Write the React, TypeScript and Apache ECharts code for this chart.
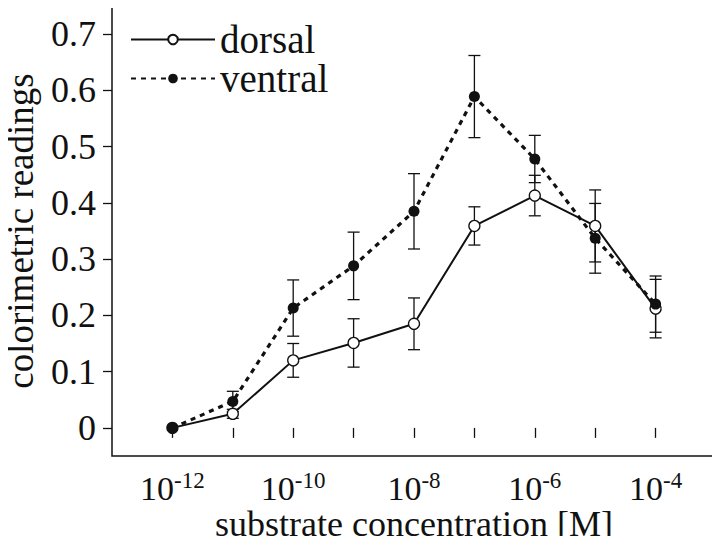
import React, { useEffect, useRef } from "react";
import * as echarts from "echarts";

// log10 of substrate concentration [M]
const logConcentration = [-12, -11, -10, -9, -8, -7, -6, -5, -4];
const dorsalMean = [0.0, 0.025, 0.12, 0.151, 0.185, 0.359, 0.413, 0.359, 0.212];
const dorsalErr = [0.0, 0.008, 0.03, 0.043, 0.046, 0.034, 0.036, 0.064, 0.052];
const ventralMean = [0.0, 0.047, 0.213, 0.288, 0.385, 0.589, 0.478, 0.337, 0.22];
const ventralErr = [0.0, 0.018, 0.05, 0.06, 0.067, 0.073, 0.042, 0.062, 0.05];
const xTickValues = [-12, -11, -10, -9, -8, -7, -6, -5, -4];
const xLabelValues = [-12, -10, -8, -6, -4];
const yTickValues = [0, 0.1, 0.2, 0.3, 0.4, 0.5, 0.6, 0.7];

const FONT = "Liberation Serif";

function errData(mean: number[], err: number[]) {
  return logConcentration
    .map((x, i) => [x, mean[i] - err[i], mean[i] + err[i]])
    .filter((d) => d[2] - d[1] > 0);
}

function errSeries(name: string, data: number[][]) {
  return {
    type: "custom",
    name: name + "-err",
    z: 1,
    silent: true,
    data,
    renderItem: (_p: any, api: any) => {
      const x = api.value(0);
      const lo = api.coord([x, api.value(1)]);
      const hi = api.coord([x, api.value(2)]);
      const w = 6;
      const style = { stroke: "#111", lineWidth: 1.3 };
      return {
        type: "group",
        children: [
          { type: "line", shape: { x1: lo[0], y1: lo[1], x2: hi[0], y2: hi[1] }, style },
          { type: "line", shape: { x1: lo[0] - w, y1: lo[1], x2: lo[0] + w, y2: lo[1] }, style },
          { type: "line", shape: { x1: hi[0] - w, y1: hi[1], x2: hi[0] + w, y2: hi[1] }, style },
        ],
      };
    },
  };
}

export default function App() {
  const ref = useRef<HTMLDivElement>(null);
  useEffect(() => {
    if (!ref.current) return;
    const chart = echarts.init(ref.current, undefined, { renderer: "svg" });
    chart.setOption({
      animation: false,
      backgroundColor: "#fff",
      textStyle: { fontFamily: FONT, color: "#111" },
      grid: {
        left: 112,
        right: 4,
        top: 6,
        bottom: 88,
        outerBoundsMode: "none",
        containLabel: false,
        show: true,
        borderColor: "#111",
        borderWidth: 1.5,
        backgroundColor: "transparent",
      },
      legend: {
        left: 130,
        top: 20,
        padding: 0,
        orient: "vertical",
        itemWidth: 84,
        itemHeight: 12,
        itemGap: 0,
        textStyle: { fontFamily: FONT, fontSize: 39, lineHeight: 35, color: "#111" },
        data: ["dorsal", "ventral"],
      },
      xAxis: {
        type: "value",
        min: -13,
        max: -3,
        name: "substrate concentration [M]",
        nameLocation: "middle",
        nameGap: 50,
        nameMoveOverlap: false,
        nameTextStyle: { fontFamily: FONT, fontSize: 36, color: "#111" },
        axisLine: { show: false },
        splitLine: { show: false },
        axisTick: {
          show: true,
          inside: false,
          length: 10,
          customValues: xTickValues,
          lineStyle: { color: "#111", width: 1.3 },
        },
        axisLabel: {
          customValues: xLabelValues,
          margin: 13,
          formatter: (v: number) => `{b|10}{s|${v}}`,
          rich: {
            b: { fontFamily: FONT, fontSize: 34, color: "#111", lineHeight: 36, verticalAlign: "bottom" },
            s: { fontFamily: FONT, fontSize: 23, color: "#111", lineHeight: 36, verticalAlign: "top", padding: [0, 0, 18, 0] },
          },
        },
      },
      yAxis: {
        type: "value",
        min: -0.05,
        max: 0.75,
        name: "colorimetric readings",
        nameLocation: "middle",
        nameGap: 73,
        nameMoveOverlap: false,
        nameTextStyle: { fontFamily: FONT, fontSize: 37, color: "#111" },
        axisLine: { show: false },
        splitLine: { show: false },
        axisTick: {
          show: true,
          inside: false,
          length: 9,
          customValues: yTickValues,
          lineStyle: { color: "#111", width: 1.3 },
        },
        axisLabel: {
          customValues: yTickValues,
          margin: 16,
          fontFamily: FONT,
          fontSize: 36,
          color: "#111",
          formatter: (v: number) => (v === 0 ? "0" : v.toFixed(1)),
        },
      },
      series: [
        errSeries("dorsal", errData(dorsalMean, dorsalErr)),
        errSeries("ventral", errData(ventralMean, ventralErr)),
        {
          type: "line",
          name: "dorsal",
          z: 3,
          data: logConcentration.map((x, i) => [x, dorsalMean[i]]),
          symbol: "circle",
          symbolSize: 11,
          showSymbol: true,
          itemStyle: { color: "#fff", borderColor: "#111", borderWidth: 1.3 },
          lineStyle: { color: "#111", width: 2 },
        },
        {
          type: "line",
          name: "ventral",
          z: 4,
          data: logConcentration.map((x, i) => [x, ventralMean[i]]),
          symbol: "circle",
          symbolSize: 11,
          showSymbol: true,
          itemStyle: { color: "#111", borderColor: "#111", borderWidth: 0 },
          lineStyle: { color: "#111", width: 3.2, type: [5, 5] },
        },
      ],
    });
    return () => chart.dispose();
  }, []);
  return <div ref={ref} style={{ width: 720, height: 544, margin: -8 }} />;
}
